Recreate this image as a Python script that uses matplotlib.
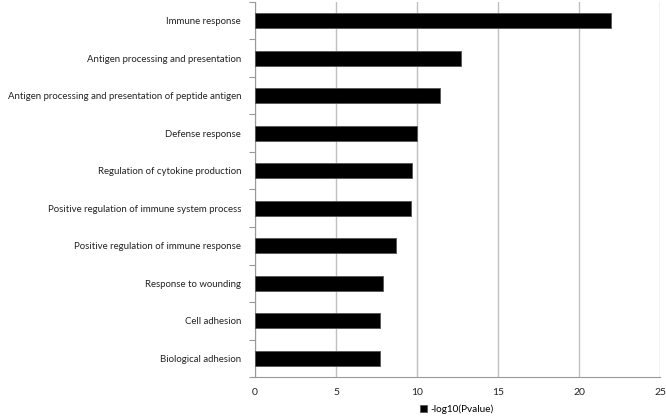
import matplotlib.pyplot as plt
import numpy as np

terms = [
    "Immune response",
    "Antigen processing and presentation",
    "Antigen processing and presentation of peptide antigen",
    "Defense response",
    "Regulation of cytokine production",
    "Positive regulation of immune system process",
    "Positive regulation of immune response",
    "Response to wounding",
    "Cell adhesion",
    "Biological adhesion",
]
neg_log_p = [22.0, 12.7, 11.4, 10.0, 9.7, 9.6, 8.7, 7.9, 7.73, 7.7]

plt.rcParams['font.family'] = ['Lato', 'DejaVu Sans']

fig = plt.figure(figsize=(6.66, 4.19), dpi=100)
ax = fig.add_axes([255 / 666, 1 - 377 / 419, 405 / 666, 375 / 419])

y = np.arange(len(terms))
ax.barh(y, neg_log_p, height=0.4, color='black', edgecolor='#555555',
        linewidth=0.6, label='-log10(Pvalue)', zorder=3)

ax.set_ylim(len(terms) - 0.5, -0.5)
ax.set_xlim(0, 25)
ax.set_xticks([0, 5, 10, 15, 20, 25])
ax.set_yticks(y)
ax.set_yticklabels(terms, fontsize=6.9, color='#222222')
ax.set_yticks(np.arange(-0.5, len(terms), 1), minor=True)
ax.tick_params(axis='y', which='major', length=0, pad=10)
ax.tick_params(axis='y', which='minor', length=4, color='#999999', width=0.8)
ax.tick_params(axis='x', which='major', length=0, pad=8, labelsize=7.5,
               labelcolor='#222222')

ax.grid(axis='x', color='#c0c0c0', linewidth=1, zorder=0)
for s in ['top', 'right']:
    ax.spines[s].set_visible(False)
ax.spines['left'].set_color('#999999')
ax.spines['bottom'].set_color('#999999')

fig.legend(loc='center', bbox_to_anchor=(457 / 666, 1 - 409 / 419), frameon=False,
           fontsize=7.2, handlelength=0.7, handleheight=0.7, handletextpad=0.3)

fig.savefig('out.png', dpi=100)
